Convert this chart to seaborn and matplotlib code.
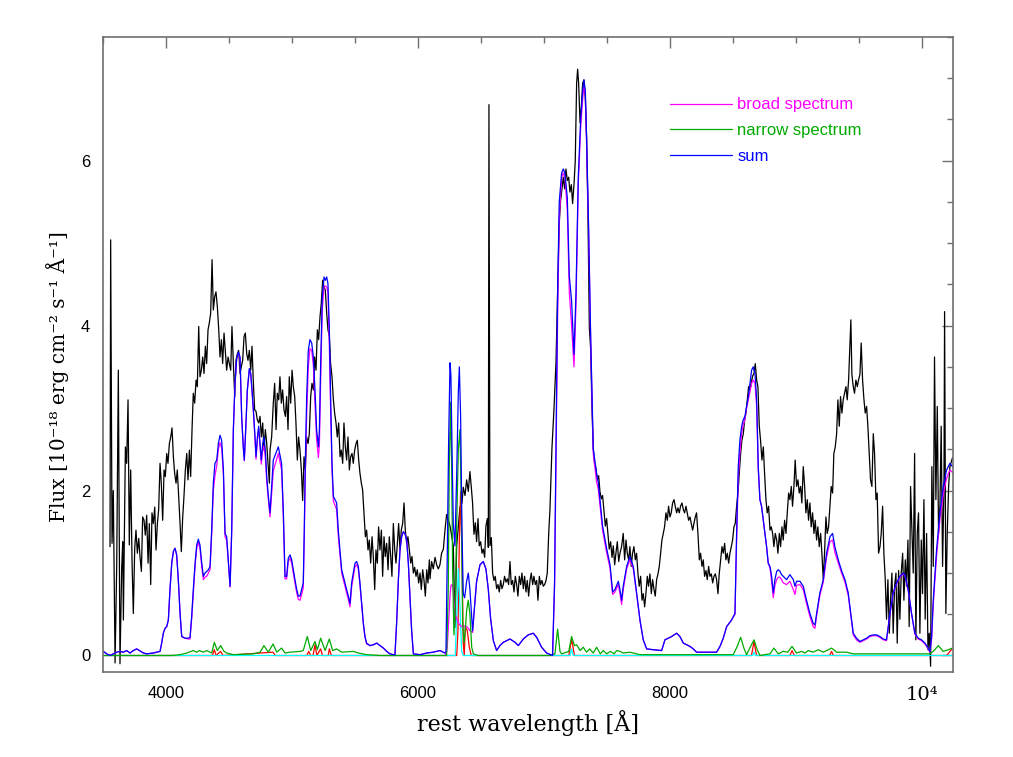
import numpy as np
import seaborn as sns
import matplotlib.pyplot as plt
from matplotlib.ticker import MultipleLocator

# observed spectrum (black)
lam_obs = [3558, 3563, 3574, 3584, 3598, 3611, 3624, 3637, 3651, 3659, 3664, 3680, 3690, 3701, 3711, 3722,
           3733, 3743, 3754, 3764, 3775, 3786, 3796, 3807, 3817, 3828, 3838, 3849, 3860, 3870, 3881, 3891,
           3902, 3913, 3923, 3934, 3944, 3955, 3965, 3976, 3987, 3997, 4008, 4018, 4029, 4040, 4050, 4061,
           4071, 4082, 4092, 4103, 4114, 4124, 4135, 4145, 4156, 4167, 4177, 4188, 4198, 4209, 4219, 4230,
           4241, 4251, 4262, 4272, 4283, 4294, 4304, 4315, 4325, 4336, 4346, 4357, 4368, 4378, 4389, 4399,
           4410, 4421, 4431, 4442, 4452, 4463, 4473, 4484, 4495, 4505, 4516, 4526, 4537, 4548, 4558, 4569,
           4579, 4590, 4600, 4611, 4622, 4632, 4643, 4653, 4664, 4675, 4685, 4696, 4706, 4717, 4727, 4738,
           4749, 4759, 4770, 4780, 4791, 4802, 4812, 4823,
           4828, 4841, 4854, 4865, 4876, 4886, 4897, 4907, 4918, 4928, 4939, 4950, 4960, 4971, 4981, 4992,
           5003, 5013, 5024, 5034, 5045, 5055, 5066, 5077, 5087, 5098, 5108, 5119, 5130, 5140, 5151, 5161,
           5172, 5182, 5193, 5204, 5214, 5225, 5235, 5246, 5257, 5267, 5278, 5288, 5299, 5309, 5320, 5331,
           5341, 5352, 5362, 5373, 5384, 5394, 5405, 5415, 5426, 5436, 5447, 5458, 5468, 5479, 5489, 5500,
           5511, 5521, 5532, 5542, 5553, 5563, 5574, 5585, 5595, 5606, 5616, 5627, 5638, 5648, 5659, 5669,
           5680, 5690, 5701, 5712, 5722, 5733, 5743, 5754, 5765, 5775, 5786, 5796, 5807, 5818, 5828, 5839,
           5849, 5860, 5870, 5881, 5892, 5902, 5913, 5923, 5934, 5945, 5955, 5966, 5976, 5987, 5997, 6008,
           6019, 6029, 6040, 6050, 6061, 6072, 6082, 6093,
           6098, 6111, 6124, 6138, 6151, 6164, 6177, 6190, 6204, 6217, 6230, 6257, 6283, 6296, 6310, 6336,
           6352, 6362, 6376, 6389, 6402, 6415, 6426, 6436, 6447, 6458, 6468, 6479, 6489, 6500, 6511, 6521,
           6532, 6542, 6553, 6561, 6566, 6574, 6585, 6595, 6606, 6616, 6627, 6638, 6648, 6659, 6669, 6680,
           6690, 6701, 6712, 6722, 6733, 6743, 6754, 6765, 6775, 6786, 6796, 6807, 6818, 6828, 6839, 6849,
           6860, 6870, 6881, 6892, 6902, 6913, 6923, 6934, 6945, 6955, 6966, 6976, 6987, 6997, 7008, 7019,
           7029, 7040, 7050, 7066, 7082, 7098, 7114, 7124, 7135, 7146, 7156, 7167, 7177, 7188, 7199, 7209,
           7220, 7230, 7241, 7251, 7262, 7270, 7278, 7289, 7299, 7310, 7320, 7331, 7341, 7352, 7363, 7373,
           7384, 7394, 7405, 7415, 7426, 7437, 7447, 7458, 7468, 7479, 7490, 7500, 7511, 7521, 7532, 7543,
           7553, 7564, 7574, 7585, 7596,
           7606, 7619, 7632, 7643, 7654, 7664, 7675, 7685, 7696, 7706, 7717, 7728, 7738, 7749, 7759, 7770,
           7781, 7791, 7802, 7812, 7823, 7833, 7844, 7855, 7865, 7876, 7886, 7897, 7908, 7918, 7929, 7939,
           7950, 7960, 7971, 7982, 7992, 8003, 8013, 8024, 8035, 8045, 8056, 8066, 8077, 8087, 8098, 8109,
           8119, 8130, 8140, 8151, 8162, 8172, 8183, 8193, 8204, 8214, 8225, 8236, 8246, 8257, 8267, 8278,
           8289, 8299, 8310, 8320, 8331, 8342, 8352, 8363, 8373, 8384, 8394, 8405, 8416, 8426, 8437, 8447,
           8458, 8469, 8479, 8490, 8500, 8511, 8521, 8532, 8543, 8553, 8564, 8574, 8585, 8596, 8606, 8617,
           8627, 8638, 8648, 8659, 8670, 8680, 8691, 8701, 8712, 8722, 8733, 8744, 8754, 8765, 8775, 8786,
           8797, 8807, 8818, 8828, 8839, 8850, 8860, 8871, 8881, 8892, 8902, 8913, 8924, 8934, 8945,
           8955, 8966, 8976, 8987, 8997, 9008, 9019, 9029, 9040, 9050, 9061, 9072, 9082, 9093, 9103, 9114,
           9124, 9135, 9146, 9156, 9167, 9177, 9188, 9199, 9209, 9220, 9230, 9241, 9251, 9262, 9273, 9283,
           9294, 9304, 9315, 9326, 9336, 9347, 9357, 9368, 9378, 9389, 9400, 9410, 9421, 9431, 9439, 9447,
           9458, 9468, 9479, 9490, 9500, 9511, 9521, 9532, 9543, 9553, 9564, 9574, 9585, 9595, 9606, 9617,
           9627, 9638, 9648, 9659, 9670, 9680, 9691, 9701, 9712, 9722, 9733, 9744, 9754, 9765, 9775, 9786,
           9797, 9807, 9818, 9828, 9839, 9850, 9860, 9871, 9881, 9892, 9902, 9913, 9924, 9934, 9945, 9955,
           9966, 9976, 9987, 9998, 10008, 10019, 10029, 10040, 10051, 10061, 10072, 10082, 10093, 10103,
           10114, 10125, 10135, 10146, 10156, 10167, 10178, 10183, 10193, 10204, 10215, 10225, 10246]
flux_obs = [1.32, 5.04, 1.36, 2.00, -0.09, 1.08, 3.46, -0.10, 1.08, 1.38, 0.43, 2.53, 2.33, 3.10, 1.34, 2.25,
            1.12, 0.51, 1.30, 1.52, 1.24, 1.42, 1.20, 1.02, 1.68, 1.64, 1.46, 1.70, 1.12, 1.60, 0.86, 1.73,
            1.60, 1.80, 1.28, 1.60, 1.77, 2.33, 2.09, 1.64, 2.25, 2.17, 2.45, 2.33, 2.57, 2.65, 2.76, 2.41,
            2.21, 2.09, 2.25, 1.93, 1.60, 1.26, 1.68, 1.93, 2.25, 2.45, 2.13, 2.49, 2.17, 2.74, 3.18, 3.06,
            3.34, 3.26, 3.99, 3.38, 3.46, 3.62, 3.42, 3.75, 3.54, 3.95, 4.03, 4.15, 4.80, 4.19, 4.35, 4.41,
            4.23, 3.95, 3.62, 3.83, 3.54, 3.91, 3.70, 3.46, 3.62, 3.54, 3.46, 3.99, 3.54, 3.14, 3.58, 3.66,
            3.70, 3.42, 3.50, 3.58, 3.87, 3.91, 3.66, 3.58, 3.70, 3.46, 3.75, 3.30, 2.98, 2.96, 2.86, 2.82,
            2.90, 2.65, 2.82, 2.49, 2.74, 2.57, 2.33, 2.09,
            2.49, 2.65, 3.06, 3.30, 2.74, 3.18, 3.10, 3.38, 3.06, 3.22, 2.98, 2.90, 3.14, 2.74, 3.38, 3.06,
            3.46, 3.26, 3.14, 2.82, 2.37, 2.65, 2.49, 2.25, 1.88, 2.41, 2.25, 2.65, 2.57, 2.69, 3.14, 3.30,
            3.22, 3.62, 3.46, 3.95, 3.83, 4.11, 4.27, 4.55, 4.47, 4.43, 4.15, 3.95, 3.87, 3.54, 3.38, 3.10,
            2.94, 2.82, 2.65, 2.82, 2.41, 2.49, 2.33, 2.82, 2.53, 2.37, 2.65, 2.25, 2.41, 2.45, 2.33, 2.49,
            2.57, 2.61, 2.37, 2.21, 2.09, 2.01, 1.73, 1.44, 1.52, 1.28, 1.40, 1.12, 1.44, 1.20, 0.80, 1.28,
            1.12, 1.56, 1.28, 1.52, 0.96, 1.44, 1.20, 1.36, 1.04, 1.44, 1.20, 0.96, 1.60, 1.28, 1.12, 1.36,
            1.60, 1.28, 1.52, 1.60, 1.85, 1.52, 1.36, 1.44, 1.28, 1.12, 1.20, 1.00, 1.07, 0.96, 1.04, 0.88,
            1.00, 0.80, 1.04, 0.92, 0.72, 1.04, 0.88, 1.16,
            0.93, 1.14, 1.05, 1.19, 1.10, 1.05, 1.10, 1.24, 1.29, 1.52, 1.71, 1.57, 1.33, 0.34, 1.33, 1.80,
            1.85, 2.04, 1.94, 2.13, 1.99, 2.23, 2.04, 1.85, 1.47, 1.61, 1.38, 1.66, 1.33, 1.38, 1.24, 1.29,
            1.19, 1.57, 1.66, 1.31, 6.68, 1.33, 1.43, 1.00, 0.91, 0.96, 0.81, 0.86, 0.77, 0.91, 0.81, 0.86,
            0.96, 0.89, 0.93, 0.86, 1.14, 0.86, 0.91, 0.77, 0.96, 0.86, 0.72, 0.96, 0.86, 1.00, 0.81, 0.96,
            0.77, 0.91, 0.72, 0.91, 1.00, 0.86, 0.96, 0.86, 0.91, 0.67, 0.96, 0.86, 0.91, 0.84, 0.86, 0.91,
            1.00, 1.47, 1.76, 2.51, 2.98, 3.55, 4.58, 5.24, 5.52, 5.66, 5.80, 5.66, 5.90, 5.76, 5.80, 5.62,
            5.71, 5.48, 5.71, 5.99, 6.94, 7.11, 6.94, 6.46, 6.65, 6.94, 6.98, 6.75, 6.28, 5.33, 3.97, 3.73,
            2.98, 2.51, 2.32, 2.27, 2.13, 2.18, 1.99, 1.90, 1.94, 1.76, 1.57, 1.66, 1.47, 1.29, 1.38, 1.19,
            1.33, 1.10, 1.24, 1.38, 1.14,
            1.24, 1.32, 1.48, 1.16, 1.40, 1.24, 1.16, 1.32, 1.08, 1.24, 1.32, 1.16, 1.24, 0.99, 0.84, 0.96,
            0.67, 0.75, 0.59, 0.75, 0.96, 0.84, 0.99, 0.75, 0.92, 0.80, 0.72, 0.92, 0.99, 1.08, 1.24, 1.40,
            1.48, 1.56, 1.73, 1.64, 1.81, 1.68, 1.73, 1.85, 1.89, 1.81, 1.73, 1.79, 1.73, 1.81, 1.85, 1.77,
            1.73, 1.81, 1.73, 1.64, 1.68, 1.60, 1.52, 1.60, 1.68, 1.73, 1.48, 1.16, 1.24, 1.08, 1.16, 0.96,
            1.03, 0.92, 1.08, 0.96, 0.99, 0.88, 0.96, 0.99, 0.92, 0.75, 0.99, 1.16, 1.32, 1.24, 1.36, 1.16,
            1.24, 1.12, 1.24, 1.32, 1.40, 1.56, 1.60, 1.81, 1.97, 2.21, 2.45, 2.61, 2.69, 2.86, 2.94, 3.10,
            3.26, 3.22, 3.30, 3.39, 3.42, 3.54, 3.34, 3.26, 2.78, 2.61, 2.37, 2.53, 2.21, 1.89, 1.73, 1.81,
            1.52, 1.56, 1.48, 1.32, 1.48, 1.40, 1.24, 1.48, 1.32, 1.56, 1.40, 1.64, 1.48, 1.73, 1.97,
            1.89, 2.05, 1.81, 2.05, 2.37, 2.05, 2.13, 1.97, 2.05, 1.85, 2.29, 2.05, 1.73, 1.89, 1.64, 1.85,
            1.56, 1.73, 1.48, 1.64, 1.40, 1.56, 1.32, 1.48, 1.24, 0.92, 1.24, 1.68, 1.48, 1.56, 1.81, 2.05,
            1.97, 2.45, 2.53, 2.69, 3.10, 2.78, 3.14, 2.94, 3.10, 3.18, 3.26, 3.10, 3.34, 3.75, 4.07, 3.41,
            3.26, 3.18, 3.34, 3.26, 3.34, 3.41, 3.79, 3.34, 3.10, 2.94, 3.02, 2.78, 2.45, 2.13, 2.05, 2.69,
            2.45, 1.89, 1.97, 1.24, 1.32, 1.48, 1.81, 1.24, 0.92, 0.44, 0.92, 0.27, 0.67, 1.00, 0.27, 0.84,
            1.00, 0.15, 1.03, 0.44, 1.00, 1.24, 0.67, 1.16, 0.84, 1.40, 0.35, 2.05, 1.48, 1.00, 2.45, 0.19,
            1.48, 1.73, 0.27, 1.40, 0.75, 1.89, 0.44, 1.48, 0.07, 0.27, -0.13, 2.29, 1.08, 3.62,
            1.89, 3.02, 1.48, 1.81, 2.78, 1.08, 2.05, 4.17, 0.51, 1.48, 2.05, 2.29, 2.40]

# model: sum (blue) and broad component (magenta)
lam_model = [3479, 3505, 3532, 3558, 3584, 3611, 3637, 3664, 3690, 3717, 3743, 3770, 3791, 3823, 3849, 3902,
             3955, 3968, 3981, 3995, 4008, 4021, 4034, 4048, 4061, 4074, 4087, 4100, 4114, 4127, 4153, 4180,
             4193, 4206, 4219, 4233, 4246, 4259, 4272, 4286, 4299, 4312, 4325, 4339, 4352, 4365, 4378, 4391,
             4405, 4418, 4431, 4444, 4458, 4471, 4484, 4497, 4511, 4524, 4537, 4550, 4563, 4577, 4590, 4603,
             4616, 4624, 4635, 4648, 4664, 4675, 4685, 4696, 4709, 4717, 4728, 4738, 4749, 4759, 4770, 4780,
             4791, 4802, 4815, 4828, 4854, 4894, 4920, 4934, 4947, 4960, 4973, 4987, 5000, 5013, 5026, 5040,
             5053, 5066, 5079, 5092, 5100, 5108, 5119, 5132, 5145, 5159, 5172, 5185, 5198, 5212, 5220, 5230,
             5243, 5257, 5267, 5278, 5288, 5299, 5309, 5320, 5331, 5344, 5357, 5370, 5383, 5397, 5410, 5423,
             5436, 5450, 5463, 5476, 5489, 5503, 5516, 5529, 5542, 5556, 5569, 5582, 5595, 5622, 5648, 5675,
             5701, 5728, 5754, 5780, 5807, 5820, 5833, 5847, 5860, 5873, 5886, 5899, 5913, 5926, 5939, 5952,
             5966, 6019, 6072, 6124, 6177, 6217, 6225, 6235, 6246, 6257, 6264, 6275, 6283, 6296, 6310, 6323,
             6331, 6341, 6352, 6362, 6373, 6389, 6402, 6415, 6436, 6452, 6468, 6495, 6521, 6542, 6561, 6579,
             6601, 6627, 6653, 6680, 6733, 6773, 6799, 6839, 6878, 6918, 6945, 6984, 7024, 7071, 7087, 7098,
             7111, 7124, 7143, 7156, 7169, 7188, 7204, 7222, 7241, 7257, 7275, 7294, 7310, 7320, 7331, 7341,
             7357, 7373, 7394, 7421, 7434, 7468, 7500, 7527, 7548, 7566, 7593, 7606, 7619, 7632, 7659, 7685,
             7712, 7738, 7765, 7791, 7818, 7871, 7937, 7963, 7990, 8016, 8056, 8082, 8109, 8135, 8162, 8188,
             8214, 8294, 8373, 8400, 8426, 8453, 8492, 8519, 8532, 8545, 8558, 8572, 8585, 8598, 8611, 8625,
             8638, 8651, 8664, 8678, 8691, 8704, 8717, 8730, 8744, 8757, 8770, 8783, 8797, 8810, 8823, 8836,
             8850, 8863, 8876, 8889, 8902, 8929, 8955, 8982, 8995, 9008, 9035, 9061, 9087, 9114, 9140, 9154,
             9167, 9193, 9220, 9246, 9273, 9294, 9312, 9339, 9365, 9392, 9418, 9445, 9458, 9484, 9511, 9537,
             9564, 9590, 9617, 9643, 9670, 9696, 9722, 9749, 9775, 9802, 9828, 9855, 9868, 9894, 9921, 9947,
             9974, 10000, 10027, 10053, 10066, 10080, 10093, 10119, 10146, 10172, 10199, 10225, 10246]
flux_sum = [0.06, 0.05, 0.02, 0.00, 0.02, 0.04, 0.05, 0.04, 0.06, 0.03, 0.06, 0.08, 0.06, 0.03, 0.02, 0.03,
            0.05, 0.15, 0.27, 0.33, 0.35, 0.43, 0.80, 1.12, 1.26, 1.30, 1.22, 0.92, 0.51, 0.23, 0.21, 0.21,
            0.22, 0.47, 0.80, 1.12, 1.34, 1.41, 1.34, 1.12, 0.96, 1.00, 1.02, 1.04, 1.08, 1.52, 2.09, 2.33,
            2.37, 2.57, 2.67, 2.61, 2.25, 1.48, 1.44, 1.16, 0.84, 1.52, 2.74, 3.30, 3.60, 3.68, 3.62, 2.90,
            2.53, 2.37, 2.74, 3.22, 3.48, 3.42, 3.22, 2.98, 2.65, 2.41, 2.65, 2.78, 2.57, 2.37, 2.57, 2.65,
            2.49, 2.17, 1.93, 1.73, 2.37, 2.53, 2.33, 1.73, 0.96, 0.96, 1.18, 1.22, 1.16, 1.04, 0.92, 0.80,
            0.72, 0.72, 0.80, 0.88, 1.52, 2.33, 3.14, 3.70, 3.83, 3.79, 3.62, 3.22, 2.74, 2.53, 2.74, 3.54,
            4.35, 4.59, 4.55, 4.59, 4.51, 3.95, 3.14, 2.33, 1.93, 1.89, 1.85, 1.52, 1.28, 1.04, 0.96, 0.88,
            0.80, 0.72, 0.63, 0.88, 1.00, 1.12, 1.14, 1.08, 0.88, 0.63, 0.39, 0.23, 0.15, 0.12, 0.13, 0.15,
            0.12, 0.09, 0.05, 0.02, 0.01, 0.01, 0.39, 0.92, 1.28, 1.44, 1.50, 1.48, 1.40, 1.12, 0.72, 0.31,
            0.02, 0.01, 0.03, 0.04, 0.06, 0.03, 0.05, 1.20, 2.60, 3.55, 3.40, 2.30, 1.60, 1.33, 2.20, 3.20,
            3.50, 2.90, 1.50, 0.75, 0.70, 0.90, 1.00, 0.80, 0.30, 0.60, 0.90, 1.10, 1.14, 1.05, 0.80, 0.45,
            0.18, 0.06, 0.12, 0.16, 0.20, 0.16, 0.12, 0.20, 0.25, 0.27, 0.22, 0.10, 0.03, 0.00, 0.90, 2.50,
            4.40, 5.50, 5.85, 5.90, 5.85, 5.55, 4.60, 4.30, 3.65, 4.40, 5.80, 6.50, 6.85, 6.98, 6.85, 6.28,
            5.20, 3.90, 2.51, 2.20, 2.10, 1.57, 1.30, 1.10, 0.77, 0.80, 0.90, 0.80, 0.67, 0.84, 1.08, 1.20,
            1.08, 0.76, 0.43, 0.19, 0.08, 0.07, 0.06, 0.19, 0.21, 0.23, 0.27, 0.23, 0.15, 0.13, 0.11, 0.08,
            0.04, 0.04, 0.04, 0.11, 0.21, 0.35, 0.43, 0.51, 1.48, 2.29, 2.61, 2.78, 2.86, 2.90, 3.02, 3.14,
            3.30, 3.46, 3.50, 3.42, 3.10, 2.29, 1.89, 1.81, 1.64, 1.48, 1.32, 1.12, 1.08, 0.96, 0.76, 0.92,
            1.02, 1.04, 1.02, 0.98, 0.96, 0.92, 0.98, 0.92, 0.84, 0.90, 0.90, 0.84, 0.67, 0.51, 0.39, 0.37,
            0.51, 0.76, 0.92, 1.24, 1.44, 1.48, 1.32, 1.16, 1.03, 0.92, 0.76, 0.43, 0.27, 0.21, 0.17, 0.19,
            0.21, 0.24, 0.25, 0.25, 0.23, 0.20, 0.19, 0.51, 0.76, 0.88, 0.96, 1.00, 0.98, 0.80, 0.51, 0.27,
            0.21, 0.19, 0.15, 0.09, 0.05, 0.23, 0.67, 1.28, 1.73, 2.05, 2.25, 2.33, 2.29]
flux_broad = [0.06, 0.05, 0.02, 0.00, 0.02, 0.04, 0.05, 0.04, 0.06, 0.03, 0.06, 0.08, 0.06, 0.03, 0.02, 0.03,
              0.05, 0.15, 0.27, 0.33, 0.35, 0.43, 0.80, 1.12, 1.26, 1.30, 1.22, 0.92, 0.51, 0.23, 0.21, 0.20,
              0.20, 0.44, 0.75, 1.08, 1.30, 1.37, 1.30, 1.08, 0.92, 0.95, 0.96, 1.00, 1.04, 1.48, 2.00, 2.18,
              2.30, 2.50, 2.58, 2.52, 2.20, 1.44, 1.40, 1.14, 0.83, 1.51, 2.73, 3.29, 3.59, 3.67, 3.61, 2.89,
              2.52, 2.36, 2.73, 3.21, 3.47, 3.41, 3.21, 2.96, 2.62, 2.38, 2.62, 2.75, 2.53, 2.32, 2.50, 2.54,
              2.40, 2.11, 1.89, 1.68, 2.24, 2.45, 2.25, 1.68, 0.93, 0.93, 1.14, 1.18, 1.12, 1.00, 0.88, 0.76,
              0.68, 0.67, 0.74, 0.82, 1.44, 2.20, 2.92, 3.50, 3.72, 3.70, 3.52, 3.05, 2.62, 2.40, 2.55, 3.33,
              4.20, 4.47, 4.48, 4.47, 4.40, 3.75, 3.00, 2.26, 1.87, 1.82, 1.77, 1.45, 1.23, 1.00, 0.92, 0.84,
              0.76, 0.68, 0.59, 0.83, 0.95, 1.08, 1.10, 1.05, 0.86, 0.61, 0.38, 0.22, 0.14, 0.12, 0.13, 0.15,
              0.12, 0.09, 0.05, 0.02, 0.01, 0.01, 0.39, 0.92, 1.28, 1.44, 1.50, 1.48, 1.40, 1.12, 0.72, 0.31,
              0.02, 0.01, 0.03, 0.04, 0.06, 0.03, 0.00, 0.10, 0.40, 0.72, 0.85, 0.86, 0.80, 0.50, 0.45, 0.40,
              0.38, 0.36, 0.35, 0.35, 0.36, 0.35, 0.33, 0.30, 0.28, 0.60, 0.90, 1.10, 1.14, 1.05, 0.80, 0.45,
              0.18, 0.06, 0.12, 0.16, 0.20, 0.16, 0.12, 0.20, 0.25, 0.27, 0.22, 0.10, 0.03, 0.00, 0.85, 2.30,
              4.10, 5.30, 5.80, 5.85, 5.80, 5.40, 4.40, 4.00, 3.50, 4.25, 5.70, 6.40, 6.75, 6.90, 6.80, 6.20,
              5.15, 3.85, 2.45, 2.10, 2.02, 1.52, 1.25, 1.06, 0.74, 0.77, 0.86, 0.75, 0.62, 0.80, 1.05, 1.16,
              1.05, 0.75, 0.42, 0.19, 0.08, 0.07, 0.06, 0.19, 0.21, 0.23, 0.27, 0.23, 0.15, 0.13, 0.11, 0.08,
              0.04, 0.04, 0.04, 0.11, 0.21, 0.35, 0.43, 0.50, 1.40, 2.15, 2.45, 2.70, 2.80, 2.86, 3.00, 3.10,
              3.20, 3.30, 3.34, 3.30, 3.02, 2.25, 1.89, 1.81, 1.64, 1.48, 1.32, 1.12, 1.06, 0.90, 0.70, 0.85,
              0.92, 0.95, 0.95, 0.92, 0.88, 0.86, 0.90, 0.80, 0.74, 0.85, 0.86, 0.80, 0.63, 0.47, 0.35, 0.33,
              0.48, 0.73, 0.89, 1.19, 1.38, 1.40, 1.25, 1.12, 1.00, 0.89, 0.73, 0.41, 0.25, 0.19, 0.16, 0.18,
              0.20, 0.23, 0.24, 0.24, 0.22, 0.19, 0.18, 0.50, 0.75, 0.87, 0.95, 0.99, 0.97, 0.79, 0.50, 0.26,
              0.20, 0.18, 0.14, 0.08, 0.04, 0.20, 0.62, 1.20, 1.65, 1.95, 2.15, 2.25, 2.22]

# narrow component (green)
lam_narrow = [3479, 4050, 4114, 4167, 4219, 4246, 4267, 4299, 4325, 4365, 4386, 4410, 4436, 4463, 4484, 4537,
              4696, 4749, 4780, 4815, 4852, 4881, 4920, 4947, 4987, 5066, 5092, 5124, 5151, 5185, 5204, 5230,
              5265, 5299, 5325, 5357, 5397, 5489, 5529, 5595, 5701, 6230, 6243, 6251, 6262, 6270, 6278, 6288,
              6299, 6310, 6323, 6336, 6347, 6357, 6368, 6378, 6389, 6402, 6415, 6429, 6442, 6480, 7050, 7090,
              7111, 7130, 7143, 7200, 7222, 7245, 7262, 7290, 7315, 7341, 7365, 7394, 7421, 7450, 7474, 7500,
              7530, 7560, 7580, 7606, 7632, 7685, 7765, 8505, 8537, 8564, 8590, 8611, 8643, 8670, 8696, 8717,
              8797, 8828, 8863, 8902, 8937, 8972, 9008, 9048, 9075, 9101, 9140, 9180, 9220, 9286, 9326, 9405,
              9458, 9749, 10066, 10093, 10133, 10172, 10212, 10246]
flux_narrow = [0.00, 0.00, 0.01, 0.03, 0.06, 0.04, 0.06, 0.04, 0.06, 0.03, 0.16, 0.06, 0.12, 0.05, 0.03, 0.01,
               0.02, 0.04, 0.12, 0.04, 0.14, 0.04, 0.09, 0.03, 0.04, 0.05, 0.06, 0.23, 0.06, 0.17, 0.07, 0.21,
               0.06, 0.20, 0.06, 0.08, 0.04, 0.05, 0.03, 0.01, 0.00, 0.00, 0.80, 2.30, 3.07, 2.30, 1.00, 0.25,
               0.60, 1.60, 2.50, 2.74, 1.80, 0.40, 0.15, 0.30, 0.55, 0.67, 0.50, 0.10, 0.02, 0.00, 0.00, 0.02,
               0.32, 0.05, 0.02, 0.05, 0.23, 0.12, 0.13, 0.06, 0.10, 0.04, 0.08, 0.03, 0.10, 0.02, 0.06, 0.02,
               0.05, 0.02, 0.06, 0.05, 0.03, 0.04, 0.01, 0.01, 0.11, 0.22, 0.09, 0.01, 0.11, 0.19, 0.07, 0.00,
               0.02, 0.09, 0.02, 0.05, 0.04, 0.11, 0.03, 0.05, 0.03, 0.06, 0.04, 0.07, 0.04, 0.09, 0.04, 0.04,
               0.02, 0.02, 0.02, 0.05, 0.12, 0.05, 0.07, 0.09]

# individual narrow lines (red, cyan)
lam_red = [3479, 4370, 4386, 4400, 4436, 4455, 4852, 4870, 5120, 5135, 5150, 5170, 5185, 5200, 5230, 5245,
           5290, 5299, 5315, 6310, 6320, 6331, 6341, 6352, 6362, 6370, 6378, 6394, 6410, 6426, 7200, 7222,
           7245, 8650, 8670, 8690, 8955, 8972, 8990, 9270, 9286, 9300, 10200, 10246]
flux_red = [0.00, 0.00, 0.07, 0.00, 0.05, 0.00, 0.04, 0.00, 0.00, 0.05, 0.00, 0.00, 0.13, 0.00, 0.08, 0.00,
            0.00, 0.08, 0.00, 0.00, 0.30, 1.40, 1.99, 1.20, 0.15, 0.00, 0.35, 0.30, 0.10, 0.00, 0.00, 0.20,
            0.00, 0.00, 0.17, 0.00, 0.00, 0.06, 0.00, 0.00, 0.05, 0.00, 0.00, 0.09]
lam_cyan = [3479, 6299, 6310, 6323, 6336, 6349, 6362, 7210, 7222, 7235, 8660, 8670, 8680, 10246]
flux_cyan = [0.00, 0.00, 0.50, 1.05, 0.60, 0.05, 0.00, 0.00, 0.08, 0.00, 0.00, 0.04, 0.00, 0.00]

sns.set_theme(style='white')
plt.rcParams['font.family'] = ['Liberation Sans', 'DejaVu Sans']

fig = plt.figure(figsize=(10.13, 7.57), dpi=100)
ax = fig.add_axes([0.1014, 0.1123, 0.8394, 0.8388])

lw = 0.9
sns.lineplot(x=lam_obs, y=flux_obs, ax=ax, color='black', lw=lw, estimator=None, sort=False)
sns.lineplot(x=lam_red, y=flux_red, ax=ax, color='red', lw=lw, estimator=None, sort=False)
sns.lineplot(x=lam_cyan, y=flux_cyan, ax=ax, color='cyan', lw=lw, estimator=None, sort=False)
sns.lineplot(x=lam_model, y=flux_broad, ax=ax, color='magenta', lw=lw, estimator=None, sort=False,
             label='broad spectrum')
sns.lineplot(x=lam_narrow, y=flux_narrow, ax=ax, color='#00aa00', lw=lw, estimator=None, sort=False,
             label='narrow spectrum')
sns.lineplot(x=lam_model, y=flux_sum, ax=ax, color='blue', lw=lw, estimator=None, sort=False,
             label='sum')

ax.set_xlim(3500, 10250)
ax.set_ylim(-0.2, 7.5)

frame = '#707070'
for s in ax.spines.values():
    s.set_color(frame)
    s.set_linewidth(1.2)

ax.set_xticks([4000, 6000, 8000, 10000])
ax.set_xticklabels(['4000', '6000', '8000', '10⁴'])
ax.xaxis.set_minor_locator(MultipleLocator(500))
ax.set_yticks([0, 2, 4, 6])
ax.yaxis.set_minor_locator(MultipleLocator(0.5))
ax.tick_params(which='both', direction='in', top=True, right=True, color=frame, width=1.0,
               labelsize=12, labelcolor='black')
ax.tick_params(which='major', length=8)
ax.tick_params(which='minor', length=4.5)
ax.tick_params(axis='x', pad=10)
ax.tick_params(axis='y', pad=9)
lab = ax.get_xticklabels()[-1]
lab.set_fontfamily('DejaVu Serif')
lab.set_fontsize(14)

ax.set_xlabel('rest wavelength [Å]', family='DejaVu Serif', fontsize=16, color='black')
ax.set_ylabel('Flux [10⁻¹⁸ erg cm⁻² s⁻¹ Å⁻¹]', family='DejaVu Serif', fontsize=14.5, color='black')
ax.xaxis.set_label_coords(0.5, -0.06)
ax.yaxis.set_label_coords(-0.04, 0.465)

leg = ax.legend(loc='upper left', bbox_to_anchor=(0.667, 0.905), frameon=False, fontsize=12,
                handlelength=3.7, handletextpad=0.35, labelspacing=0.65, borderpad=0, borderaxespad=0)
for txt, line in zip(leg.get_texts(), leg.get_lines()):
    txt.set_color(line.get_color())

fig.savefig('out.png', dpi=100)
